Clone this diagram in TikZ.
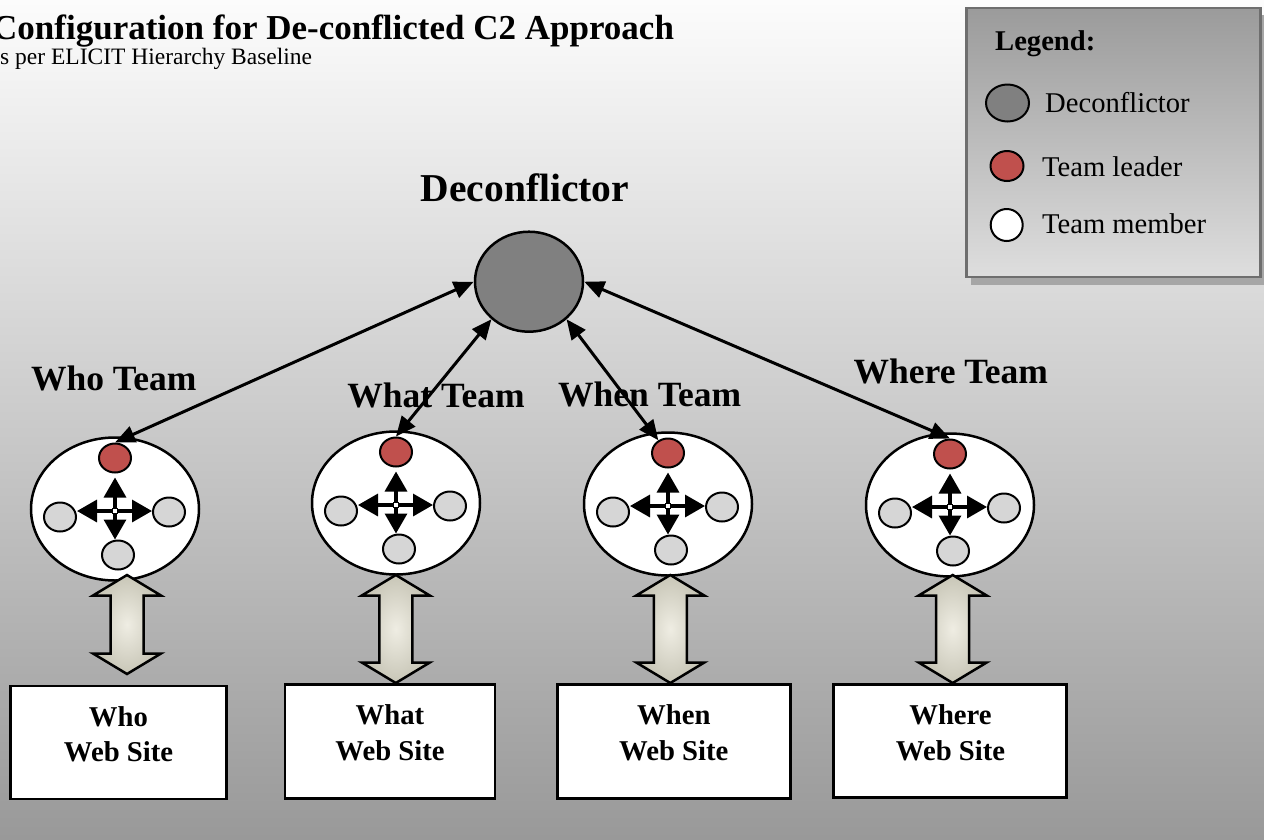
\documentclass[tikz,border=0pt]{standalone}
\usepackage{fontspec}
\setmainfont{Liberation Serif}
\usetikzlibrary{arrows.meta,shapes.geometric,calc}

\definecolor{bgtop}{HTML}{FCFCFC}
\definecolor{bgbottom}{HTML}{999999}
\definecolor{decgray}{HTML}{808080}
\definecolor{leadred}{HTML}{C0504D}
\definecolor{memgray}{HTML}{D6D6D6}
\definecolor{beigemid}{HTML}{EFEDE3}
\definecolor{beigeedge}{HTML}{C8C6B7}
\definecolor{legtop}{HTML}{9B9B9B}
\definecolor{legbot}{HTML}{DEDEDE}
\definecolor{legframe}{HTML}{6E6E6E}
\definecolor{legshadow}{HTML}{A6A6A6}

\newcommand{\fsz}[1]{\fontsize{#1}{#1}\selectfont}

% one team: name, centre x, leader y
\newcommand{\teamcluster}[3]{%
  \node[teamoval] (#1) at (#2,#3+51) {};
  \node[leader] (#1-lead) at (#2,#3) {};
  \node[member] (#1-left) at (#2-55,#3+59) {};
  \node[member] (#1-right) at (#2+54,#3+54) {};
  \node[member] (#1-bottom) at (#2+3,#3+97) {};
  \coordinate (#1-hub) at (#2,#3+53);
  \draw[crossarrow] ($(#1-lead.south)+(0,4)$) -- (#1-bottom.north -| #1-hub);
  \draw[crossarrow] (#1-left.east |- #1-hub) -- (#1-right.west |- #1-hub);
  \node[hubmark] at (#1-hub) {};
}

% wide two-way arrow between a team and its web site: centre x, top tip y, bottom tip y
\newcommand{\blockarrow}[3]{%
  \path[bigarrow] (#1,#2) -- (#1+34,#2+20.5) -- (#1+16.5,#2+20.5)
    -- (#1+16.5,#3-20.5) -- (#1+34,#3-20.5) -- (#1,#3) -- (#1-34,#3-20.5)
    -- (#1-16.5,#3-20.5) -- (#1-16.5,#2+20.5) -- (#1-34,#2+20.5) -- cycle;
}

\begin{document}
\begin{tikzpicture}[x=1pt,y=-1pt,
  teamlabel/.style={font=\fsz{35.5}\bfseries, inner sep=0pt, anchor=base},
  sitetext/.style={font=\fsz{28.7}\bfseries, inner sep=0pt, anchor=base},
  legtext/.style={font=\fsz{28.6}, inner sep=0pt, anchor=base west},
  teamoval/.style={ellipse, draw=black, line width=2.5pt, fill=white,
    minimum width=168pt, minimum height=143pt, inner sep=0pt},
  leader/.style={ellipse, draw=black, line width=2pt, fill=leadred,
    minimum width=32pt, minimum height=29pt, inner sep=0pt},
  member/.style={ellipse, draw=black, line width=2pt, fill=memgray,
    minimum width=32pt, minimum height=29pt, inner sep=0pt},
  deconf/.style={ellipse, draw=black, line width=2.5pt, fill=decgray,
    minimum width=108pt, minimum height=100pt, inner sep=0pt},
  crossarrow/.style={line width=3.4pt,
    {Triangle[length=20pt,width=22pt]}-{Triangle[length=20pt,width=22pt]}},
  hubmark/.style={rectangle, draw=black, fill=white, line width=1.3pt,
    minimum size=5pt, inner sep=0pt},
  link/.style={line width=3pt,
    {Triangle[length=20pt,width=17pt]}-{Triangle[length=20pt,width=17pt]}},
  bigarrow/.style={draw=black, line width=2.5pt, line join=miter,
    inner color=beigemid, outer color=beigeedge},
  site/.style={rectangle, draw=black, line width=2.5pt, fill=white, inner sep=0pt},
]
\useasboundingbox (0,0) rectangle (1264,839);
\clip (0,0) rectangle (1264,839);

% backdrop
\fill[top color=bgtop, bottom color=bgbottom] (0,0) rectangle (1264,839);

% heading
\node[font=\fsz{35}\bfseries, inner sep=0pt, anchor=base west] (title) at (-8,39)
  {Configuration for De-conflicted C2 Approach};
\node[font=\fsz{23.5}, inner sep=0pt, anchor=base west] (subtitle) at (0,64)
  {s per ELICIT Hierarchy Baseline};

% legend
\fill[legshadow] (971,15) rectangle (1266,285);
\node[rectangle, draw=legframe, line width=2.5pt, top color=legtop, bottom color=legbot,
  minimum width=294pt, minimum height=269pt, inner sep=0pt] (legend) at (1113.5,142.5) {};
\node[font=\fsz{28.6}\bfseries, inner sep=0pt, anchor=base west] (legend-title) at (995,50) {Legend:};
\node[deconf, minimum width=43pt, minimum height=37pt, line width=2pt] (leg-dec) at (1007.5,103) {};
\node[legtext] (leg-dec-text) at (1045,112) {Deconflictor};
\node[leader, minimum width=33pt, minimum height=30pt] (leg-lead) at (1007,166) {};
\node[legtext] (leg-lead-text) at (1042,176) {Team leader};
\node[member, fill=white, minimum width=32pt, minimum height=32pt] (leg-mem) at (1006.7,225) {};
\node[legtext] (leg-mem-text) at (1042,233) {Team member};

% deconflictor
\node[font=\fsz{39.5}\bfseries, inner sep=0pt, anchor=base] (dec-label) at (525,201.7) {Deconflictor};
\node[deconf] (dec) at (529,281.7) {};

% teams
\node[teamlabel] (who-label) at (113.8,390.7) {Who Team};
\node[teamlabel] (what-label) at (436,407.7) {What Team};
\node[teamlabel] (when-label) at (649.7,406.7) {When Team};
\node[teamlabel] (where-label) at (950.8,383.3) {Where Team};

\teamcluster{who}{115}{458}
\teamcluster{what}{396}{452}
\teamcluster{when}{668}{453}
\teamcluster{where}{950}{454}

% web sites
\node[site, minimum width=216pt, minimum height=113pt] (who-site) at (118.5,742.5) {};
\node[site, minimum width=210pt, minimum height=114pt] (what-site) at (390,741.3) {};
\node[site, minimum width=233pt, minimum height=114pt] (when-site) at (673.8,741.6) {};
\node[site, minimum width=233pt, minimum height=113pt] (where-site) at (950.2,740.8) {};

\node[sitetext] (who-site-l1) at (118.5,726.7) {Who};
\node[sitetext] (who-site-l2) at (118.5,761.7) {Web Site};
\node[sitetext] (what-site-l1) at (390,724) {What};
\node[sitetext] (what-site-l2) at (390,760) {Web Site};
\node[sitetext] (when-site-l1) at (673.8,724) {When};
\node[sitetext] (when-site-l2) at (673.8,760) {Web Site};
\node[sitetext] (where-site-l1) at (950.5,724) {Where};
\node[sitetext] (where-site-l2) at (950.5,760) {Web Site};

% team <-> web site
\blockarrow{127}{575}{674}
\blockarrow{395.8}{575}{683}
\blockarrow{670.3}{575}{683}
\blockarrow{952.7}{575}{683}

% deconflictor <-> team leaders
\draw[link] (dec.west) -- (who-lead.north);
\draw[link] (dec.225) -- (what-lead.north);
\draw[link] (dec.315) -- (when-lead);
\draw[link] (dec.east) -- (where-lead.north);
\end{tikzpicture}
\end{document}
